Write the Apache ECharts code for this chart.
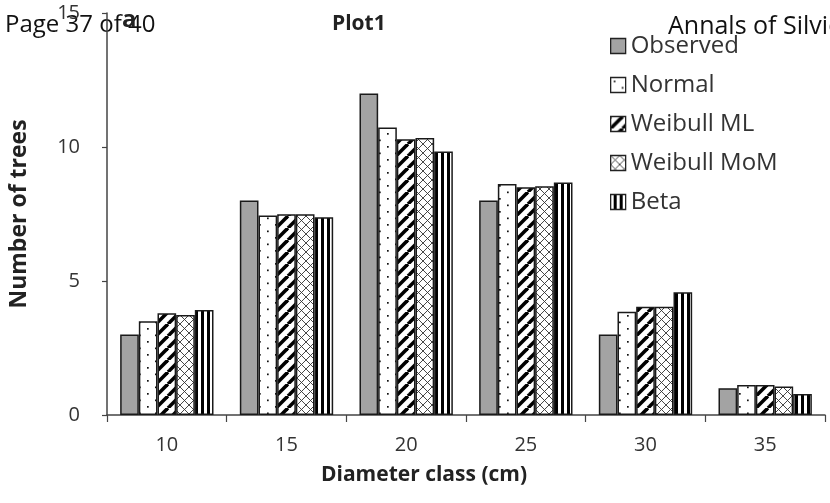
<!DOCTYPE html>
<html>
<head>
<meta charset="utf-8">
<script src="https://cdn.jsdelivr.net/npm/echarts@6/dist/echarts.min.js"></script>
<style>html,body{margin:0;padding:0;background:#fff}#c{width:830px;height:503px}</style>
</head>
<body>
<div id="c"></div>
<script>
const categories = ['10', '15', '20', '25', '30', '35'];
const observed   = [3.0, 8.0, 12.0, 8.0, 3.0, 1.0];
const normal     = [3.5, 7.44, 10.73, 8.62, 3.85, 1.12];
const weibullML  = [3.8, 7.49, 10.29, 8.5, 4.04, 1.12];
const weibullMoM = [3.73, 7.49, 10.34, 8.54, 4.04, 1.06];
const beta       = [3.92, 7.38, 9.83, 8.68, 4.58, 0.78];
const seriesNames = ['Observed', 'Normal', 'Weibull ML', 'Weibull MoM', 'Beta'];
const yTicks = [0, 5, 10, 15];

function tile(w, h, draw) {
  const c = document.createElement('canvas');
  c.width = w; c.height = h;
  const g = c.getContext('2d');
  g.fillStyle = '#fff'; g.fillRect(0, 0, w, h);
  draw(g, w, h);
  return { image: c, repeat: 'repeat' };
}
const patDots = tile(16, 13, (g) => {
  g.fillStyle = '#111';
  g.fillRect(3, 3, 1.7, 1.7);
  g.fillRect(11, 9.5, 1.7, 1.7);
});
const patDiag = tile(12, 12, (g, w, h) => {
  g.strokeStyle = '#000'; g.lineWidth = 3.6;
  for (let k = -1; k <= 1; k++) {
    g.beginPath(); g.moveTo(k * w, h); g.lineTo(k * w + w, 0); g.stroke();
  }
});
const patCross = tile(9, 9, (g, w, h) => {
  g.strokeStyle = '#333'; g.lineWidth = 0.9;
  g.beginPath(); g.moveTo(0, 0); g.lineTo(w, h); g.stroke();
  g.beginPath(); g.moveTo(0, h); g.lineTo(w, 0); g.stroke();
});
const patVert = tile(6, 6, (g) => {
  g.fillStyle = '#000'; g.fillRect(3, 0, 3, 6);
});

const fills = ['#a3a3a3', patDots, patDiag, patCross, patVert];
const datas = [observed, normal, weibullML, weibullMoM, beta];
const FONT = 'Open Sans';

const chart = echarts.init(document.getElementById('c'));
chart.setOption({
  animation: false,
  backgroundColor: '#fff',
  grid: { left: 105, right: 5, top: 13, bottom: 88 },
  legend: {
    orient: 'vertical', left: 605, top: 29,
    itemWidth: 15, itemHeight: 15, itemGap: 15,
    icon: 'rect',
    textStyle: { fontFamily: FONT, fontSize: 24, lineHeight: 24, color: '#333', padding: [0, 0, 0, 0] },
    itemStyle: { borderColor: '#222', borderWidth: 1.3 },
    data: seriesNames
  },
  xAxis: {
    type: 'category', data: categories,
    axisLine: { lineStyle: { color: '#444', width: 1.5 } },
    axisTick: { show: true, length: 7, interval: 0, lineStyle: { color: '#444', width: 1.2 } },
    axisLabel: { fontFamily: FONT, fontSize: 20, color: '#333', margin: 20 },
    name: 'Diameter class (cm)', nameLocation: 'middle', nameGap: 50,
    nameTextStyle: { fontFamily: FONT, fontSize: 21, fontWeight: 'bold', color: '#222', padding: [0, 84, 0, 0] }
  },
  yAxis: {
    type: 'value', min: 0, max: 15, interval: 5,
    splitLine: { show: false },
    axisLine: { show: true, lineStyle: { color: '#444', width: 1.5 } },
    axisTick: { show: true, length: 5, lineStyle: { color: '#444', width: 1.2 } },
    axisLabel: { fontFamily: FONT, fontSize: 20, color: '#333', margin: 27,
      formatter: (v) => yTicks.includes(v) ? String(v) : '' },
    name: 'Number of trees', nameLocation: 'middle', nameGap: 76, nameRotate: 90,
    nameTextStyle: { fontFamily: FONT, fontSize: 23, fontWeight: 'bold', color: '#222' }
  },
  graphic: [
    { type: 'text', left: 5, top: 13, style: { text: 'Page 37 of 40', font: '24px "Open Sans"', fill: '#111' } },
    { type: 'text', left: 668, top: 14, style: { text: 'Annals of Silvicultural Research', font: '25px "Open Sans"', fill: '#111' } },
    { type: 'text', left: 332, top: 14, style: { text: 'Plot1', font: 'bold 21px "Open Sans"', fill: '#222' } },
    { type: 'text', left: 122, top: 8, style: { text: 'a', font: 'bold 24px "Open Sans"', fill: '#222' } }
  ],
  series: seriesNames.map((n, i) => ({
    name: n, type: 'bar', data: datas[i],
    barGap: '0%', barCategoryGap: '22%',
    itemStyle: { color: fills[i], borderColor: '#1a1a1a', borderWidth: 1.5 }
  }))
});
</script>
</body>
</html>
